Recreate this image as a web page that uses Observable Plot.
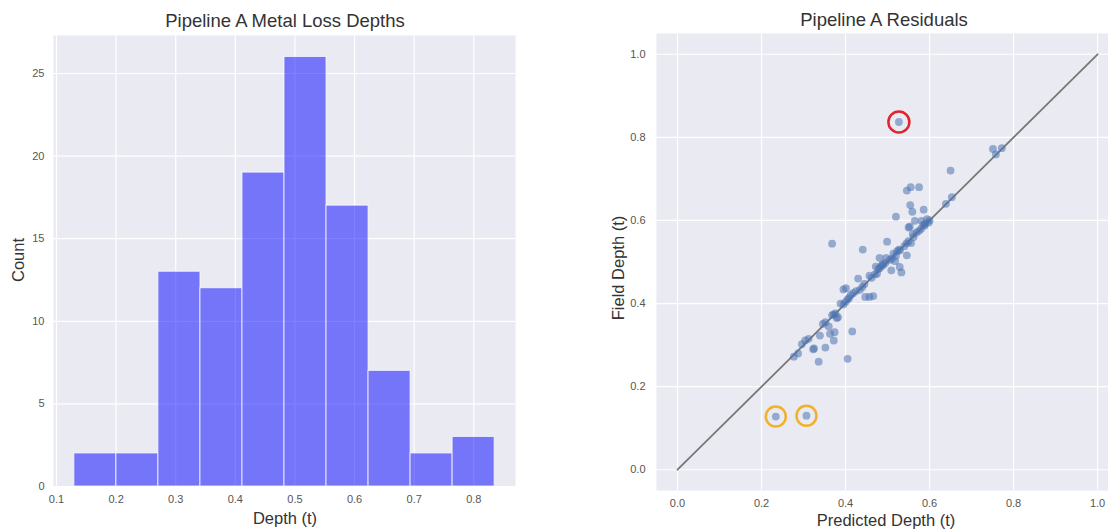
<!DOCTYPE html>
<html><head><meta charset="utf-8">
<script src="https://cdn.jsdelivr.net/npm/d3@7"></script>
<script src="https://cdn.jsdelivr.net/npm/@observablehq/plot@0.6"></script>
<style>
html,body{margin:0;padding:0;background:#fff;overflow:hidden;}
#wrap{position:relative;width:1108px;height:529px;font-family:"Liberation Sans",Arial,sans-serif;}
.lbl{position:absolute;color:#333;white-space:nowrap;transform:translate(-50%,-50%);line-height:1;}
.title{font-size:18.5px;}
.axl{font-size:16.5px;}
.rot{transform:translate(-50%,-50%) rotate(-90deg);}
#left,#right{position:absolute;top:0;}
#left{left:0;}
#right{left:560px;}
</style></head>
<body><div id="wrap">
<div id="left"></div>
<div id="right"></div>
<div class="lbl title" style="left:285px;top:21px;">Pipeline A Metal Loss Depths</div>
<div class="lbl title" style="left:884px;top:20px;">Pipeline A Residuals</div>
<div class="lbl axl" style="left:285px;top:518px;">Depth (t)</div>
<div class="lbl axl rot" style="left:18px;top:260px;">Count</div>
<div class="lbl axl" style="left:886px;top:520px;">Predicted Depth (t)</div>
<div class="lbl axl rot" style="left:618px;top:268px;">Field Depth (t)</div>
</div>
<script>
// Histogram data
const binEdges = [0.130, 0.2005, 0.271, 0.3415, 0.412, 0.4825, 0.553, 0.6235, 0.694, 0.7645, 0.835];
const binCounts = [2, 2, 13, 12, 19, 26, 17, 7, 2, 3];
const histXTicks = [0.1, 0.2, 0.3, 0.4, 0.5, 0.6, 0.7, 0.8];
const histYTicks = [0, 5, 10, 15, 20, 25];

// Residual scatter data
const predicted = [
  0.234, 0.307,
  0.336, 0.405,
  0.277, 0.287, 0.296, 0.304, 0.312, 0.323, 0.325, 0.339, 0.352, 0.363, 0.372, 0.374, 0.416,
  0.346, 0.352, 0.360, 0.368, 0.372, 0.376, 0.379, 0.382, 0.388, 0.395, 0.400, 0.405,
  0.408, 0.395, 0.401, 0.412, 0.418, 0.425, 0.434, 0.430, 0.447, 0.457, 0.466, 0.440, 0.445, 0.457, 0.462, 0.470, 0.475, 0.533, 0.509,
  0.529, 0.472, 0.481, 0.478, 0.485, 0.490, 0.495, 0.481, 0.497, 0.518, 0.505, 0.510, 0.514, 0.523, 0.520, 0.546, 0.527, 0.530, 0.441, 0.368, 0.499, 0.556, 0.540, 0.545, 0.550, 0.488,
  0.560, 0.569, 0.550, 0.553, 0.588, 0.598, 0.565, 0.581, 0.594, 0.520, 0.559, 0.562, 0.575, 0.580, 0.590, 0.600, 0.585,
  0.586, 0.554, 0.639, 0.653, 0.546, 0.555, 0.575,
  0.650, 0.758,
  0.751, 0.772, 0.527
];
const field = [
  0.128, 0.130,
  0.260, 0.267,
  0.272, 0.280, 0.302, 0.311, 0.315, 0.290, 0.292, 0.323, 0.294, 0.327, 0.311, 0.331, 0.333,
  0.351, 0.355, 0.345, 0.372, 0.374, 0.376, 0.365, 0.367, 0.400, 0.398, 0.404, 0.410,
  0.413, 0.434, 0.437, 0.420, 0.425, 0.430, 0.433, 0.460, 0.416, 0.416, 0.418, 0.440, 0.447, 0.467, 0.462, 0.470, 0.472, 0.475, 0.480,
  0.488, 0.489, 0.485, 0.483, 0.490, 0.493, 0.498, 0.510, 0.510, 0.502, 0.505, 0.508, 0.520, 0.526, 0.515, 0.516, 0.530, 0.528, 0.530, 0.544, 0.549, 0.546, 0.538, 0.545, 0.550, 0.495,
  0.567, 0.571, 0.583, 0.585, 0.587, 0.595, 0.599, 0.599, 0.603, 0.609, 0.621, 0.560, 0.575, 0.580, 0.592, 0.600, 0.590,
  0.626, 0.637, 0.640, 0.656, 0.672, 0.680, 0.680,
  0.720, 0.759,
  0.772, 0.774, 0.837
];
const redPred = [0.527], redField = [0.837];
const orangePred = [0.234, 0.307], orangeField = [0.128, 0.130];
const identity = [0, 1];
const resTicks = [0, 0.2, 0.4, 0.6, 0.8, 1.0];

const font = '"Liberation Sans", Arial, sans-serif';
const bg = "#EAEAF2";

const left = Plot.plot({
  width: 530, height: 529,
  marginLeft: 53, marginRight: 15, marginTop: 35, marginBottom: 43,
  style: {background: "transparent", color: "#555", fontSize: "11px", fontFamily: font},
  x: {domain: [0.095, 0.870], ticks: histXTicks, tickSize: 0, tickPadding: 9, tickFormat: d3.format(".1f"), label: null},
  y: {domain: [0, 27.3], ticks: histYTicks, tickSize: 0, tickPadding: 9, label: null},
  marks: [
    Plot.frame({fill: bg, stroke: null}),
    Plot.gridX(histXTicks, {stroke: "white", strokeOpacity: 1, strokeWidth: 1.2}),
    Plot.gridY(histYTicks, {stroke: "white", strokeOpacity: 1, strokeWidth: 1.2}),
    Plot.rectY(binCounts, {
      x1: (d, i) => binEdges[i], x2: (d, i) => binEdges[i + 1], y1: 0, y2: d => d,
      fill: "blue", fillOpacity: 0.5, stroke: "white", strokeOpacity: 0.75, strokeWidth: 1
    })
  ]
});
document.getElementById("left").appendChild(left);

const pts = predicted.map((p, i) => ({p, f: field[i]}));
const right = Plot.plot({
  width: 548, height: 529,
  marginLeft: 96, marginRight: 0, marginTop: 33, marginBottom: 39,
  style: {background: "transparent", color: "#555", fontSize: "11px", fontFamily: font},
  x: {domain: [-0.05, 1.026], ticks: resTicks, tickSize: 0, tickPadding: 9, tickFormat: d3.format(".1f"), label: null},
  y: {domain: [-0.05, 1.05], ticks: resTicks, tickSize: 0, tickPadding: 11, tickFormat: d3.format(".1f"), label: null},
  marks: [
    Plot.frame({fill: bg, stroke: null}),
    Plot.gridX(resTicks, {stroke: "white", strokeOpacity: 1, strokeWidth: 1.2}),
    Plot.gridY(resTicks, {stroke: "white", strokeOpacity: 1, strokeWidth: 1.2}),
    Plot.line(identity, {x: d => d, y: d => d, stroke: "#777", strokeWidth: 1.8}),
    Plot.dot(pts, {x: "p", y: "f", r: 3.9, fill: "#4C72B0", fillOpacity: 0.55, stroke: null}),
    Plot.dot(redPred, {x: d => d, y: (d, i) => redField[i], r: 10.5, fill: "none", stroke: "#e3232b", strokeWidth: 2.5}),
    Plot.dot(orangePred, {x: d => d, y: (d, i) => orangeField[i], r: 10, fill: "none", stroke: "#f0b22e", strokeWidth: 2.5})
  ]
});
document.getElementById("right").appendChild(right);
</script>
</body></html>
